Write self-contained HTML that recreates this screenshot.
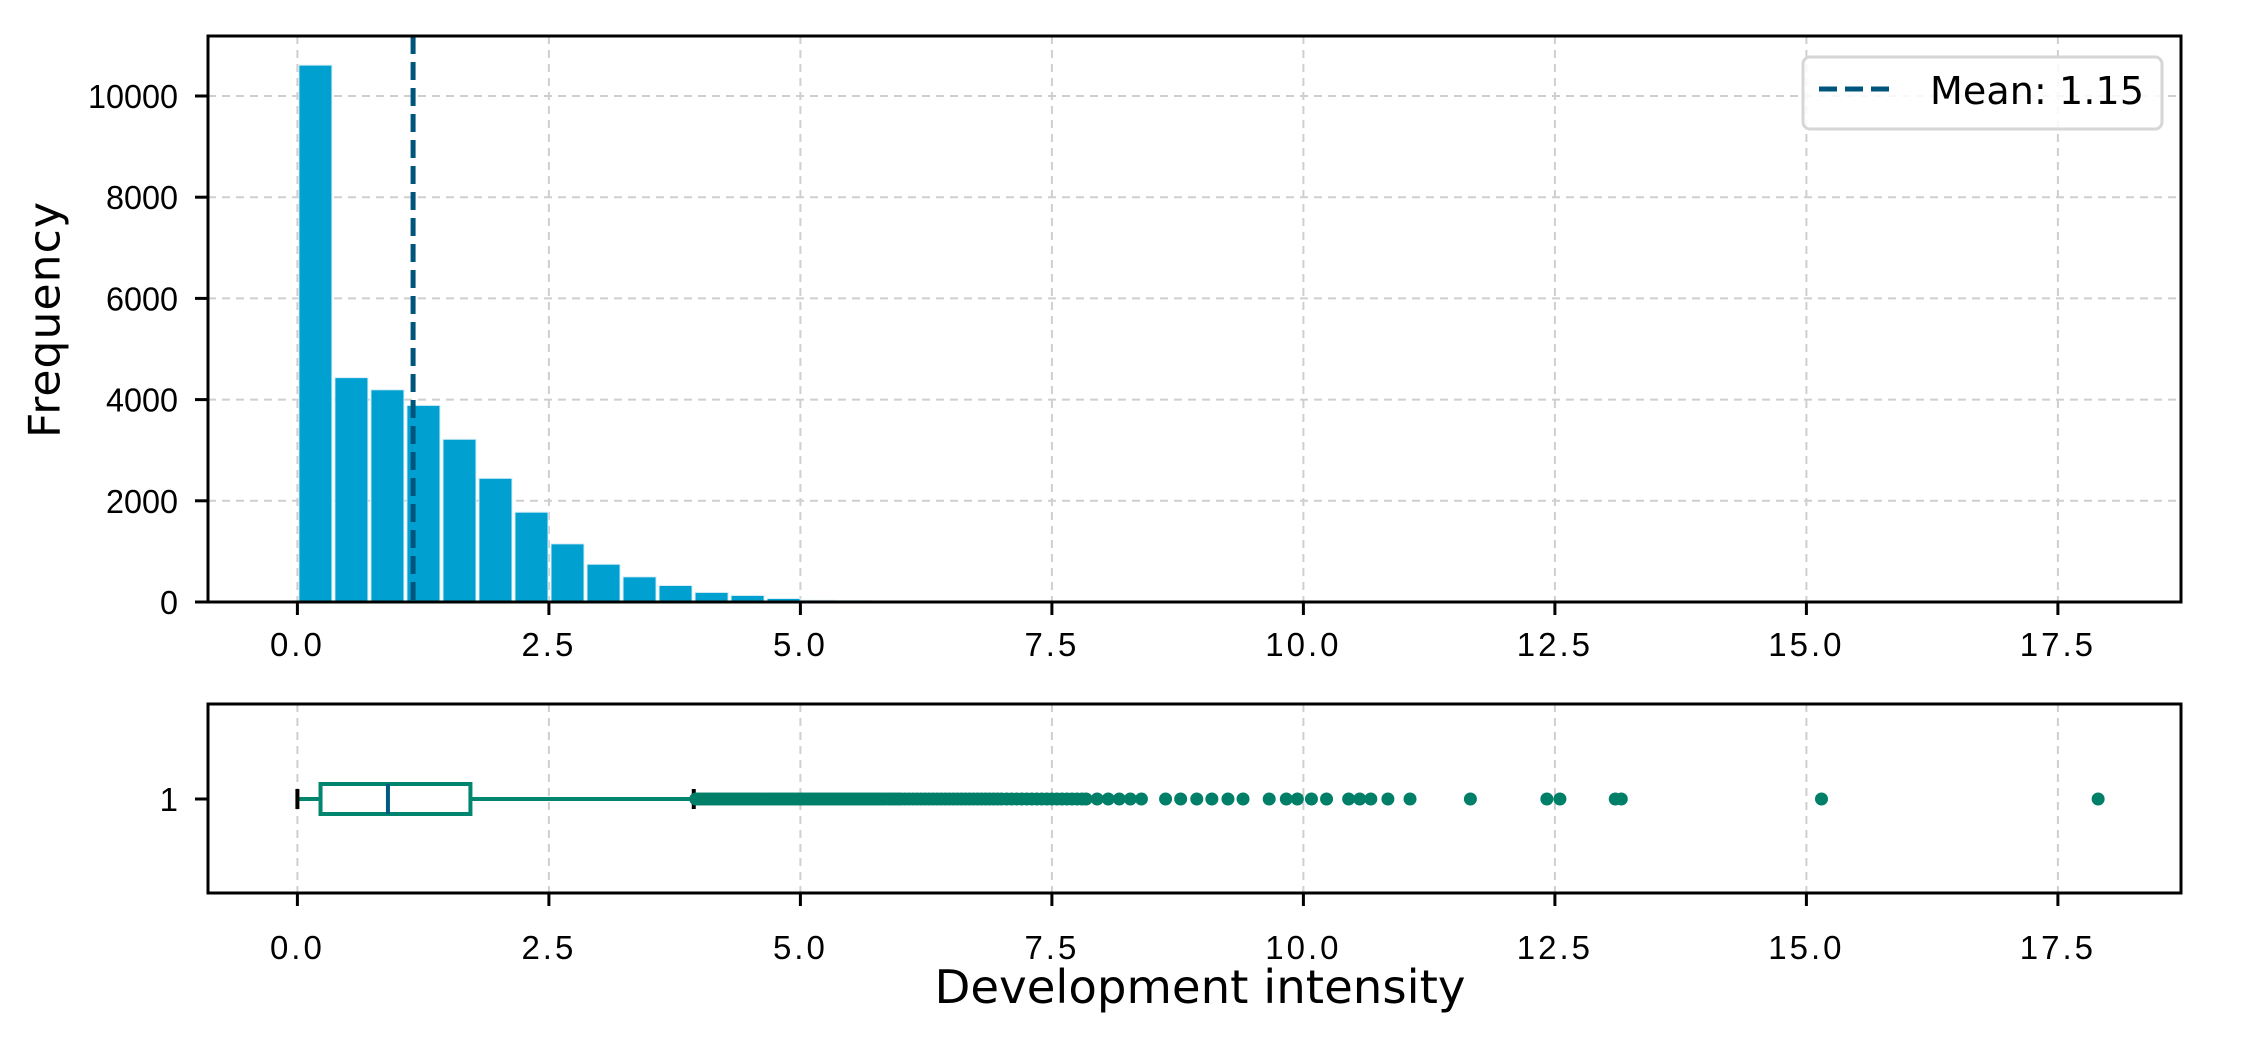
<!DOCTYPE html>
<html><head><meta charset="utf-8"><style>
html,body{margin:0;padding:0;background:#fff;}
svg{display:block;}
text{font-family:"Liberation Sans","DejaVu Sans",sans-serif;fill:#000;}
</style></head><body>
<svg id="chart" width="2242" height="1037" viewBox="0 0 2242 1037" xmlns="http://www.w3.org/2000/svg">
<g id="grid"></g>
<g id="bars"></g>
<g id="box"></g>
<g id="axes"></g>
<text x="45" y="320" font-size="44" text-anchor="middle" transform="rotate(-90 45 320)" dominant-baseline="central" textLength="236" style="font-family:'DejaVu Sans',sans-serif">Frequency</text>
<text x="1200" y="1003" font-size="46" text-anchor="middle" textLength="531" lengthAdjust="spacingAndGlyphs" style="font-family:'DejaVu Sans',sans-serif">Development intensity</text>
<g>
<rect x="1803" y="57" width="359" height="72" rx="7" fill="#fff" fill-opacity="0.85" stroke="#d6d6d6" stroke-width="3"/>
<line x1="1819" y1="89" x2="1896" y2="89" stroke="#00557d" stroke-width="5" stroke-dasharray="18,8"/>
<text x="1930" y="104" font-size="38" textLength="214" style="font-family:'DejaVu Sans',sans-serif">Mean: 1.15</text>
</g>
</svg>
<script>
const binStart = 0;
const binWidth = 0.358;
const counts = [10610,4434,4194,3885,3216,2444,1775,1149,746,497,326,189,129,69,34,26,14,9,6,4,3,2,1,1,1,0,0,0,0,0,0,0,0,0,0,0,0,0,0,0,0,0,0,0,0,0,0,0,0,1];
const meanValue = 1.15;
const yTicks = [0,2000,4000,6000,8000,10000];
const xTicks = [0,2.5,5,7.5,10,12.5,15,17.5];
const xTickLabels = ["0.0","2.5","5.0","7.5","10.0","12.5","15.0","17.5"];
const boxStats = [0, 0.23, 0.90, 1.72, 3.94];
const outliers = [3.96,3.99,4.02,4.05,4.08,4.11,4.14,4.17,4.2,4.23,4.26,4.29,4.32,4.35,4.38,4.41,4.44,4.47,4.5,4.53,4.56,4.59,4.62,4.65,4.68,4.71,4.74,4.77,4.8,4.83,4.86,4.89,4.92,4.95,4.98,5.01,5.04,5.07,5.1,5.13,5.16,5.19,5.22,5.25,5.28,5.31,5.34,5.37,5.4,5.43,5.46,5.49,5.52,5.55,5.58,5.61,5.64,5.67,5.7,5.73,5.76,5.79,5.82,5.85,5.88,5.91,5.94,5.97,6.0,6.04,6.08,6.12,6.16,6.2,6.24,6.28,6.32,6.36,6.4,6.44,6.48,6.52,6.56,6.6,6.64,6.68,6.72,6.76,6.8,6.84,6.88,6.92,6.96,7.0,7.05,7.1,7.15,7.2,7.25,7.3,7.35,7.4,7.45,7.5,7.55,7.6,7.65,7.7,7.75,7.8,7.84,7.95,8.06,8.17,8.28,8.39,8.63,8.78,8.94,9.09,9.25,9.40,9.66,9.83,9.94,10.08,10.23,10.45,10.56,10.67,10.84,11.06,11.66,12.42,12.55,13.10,13.16,15.15,17.9];

const NS="http://www.w3.org/2000/svg";
const L=208,R=2181,T1=36,B1=602,T2=704,B2=893,BOXY=799;
const X0=297.4,PXU=100.6;
function xs(v){return X0+v*PXU;}
function ys(v){return B1-v*0.0506;}
function mk(tag,attrs,parent){const e=document.createElementNS(NS,tag);for(const k in attrs)e.setAttribute(k,attrs[k]);parent.appendChild(e);return e;}
const grid=document.getElementById('grid'),bars=document.getElementById('bars'),box=document.getElementById('box'),axes=document.getElementById('axes');
const gs={stroke:"#cfcfcf","stroke-width":2,"stroke-dasharray":"8,6"};
xTicks.forEach((t,i)=>{
  [[T1,B1,54],[T2,B2,66]].forEach(([a,b,off])=>{
    const g=mk('line',Object.assign({x1:xs(t),x2:xs(t),y1:a,y2:b},gs),grid);
    
    
    const tk=mk('line',{x1:xs(t),x2:xs(t),y1:b,y2:b+13,stroke:"#000","stroke-width":3},axes);
    
    
    const tx=mk('text',{x:xs(t),y:b+off,"font-size":33,"text-anchor":"middle","letter-spacing":"3"},axes);
    tx.textContent=xTickLabels[i];
    
    
  });
});
yTicks.forEach(t=>{
  if(t>0){const g=mk('line',Object.assign({x1:L,x2:R,y1:ys(t),y2:ys(t)},gs),grid);
  
  }
  const tk=mk('line',{x1:L-13,x2:L,y1:ys(t),y2:ys(t),stroke:"#000","stroke-width":3},axes);
  
  
  const tx=mk('text',{x:178,y:ys(t)+12,"font-size":33,"text-anchor":"end","textLength":String(t).length*18,"lengthAdjust":"spacingAndGlyphs"},axes);
  tx.textContent=t;
  
  
});
counts.forEach((c,i)=>{
  if(c<=0)return;
  const x1=xs(binStart+i*binWidth),x2=xs(binStart+(i+1)*binWidth);
  const r=mk('rect',{x:x1+1.5,y:ys(c),width:x2-x1-3,height:B1-ys(c),fill:"#00a0d0",stroke:"#d8eef7","stroke-width":1},bars);
  
  
});
const ml=mk('line',{x1:xs(meanValue),x2:xs(meanValue),y1:T1,y2:B1,stroke:"#00557d","stroke-width":5,"stroke-dasharray":"18,8"},bars);


const teal="#00856f";
let e=mk('line',{x1:xs(boxStats[0]),x2:xs(boxStats[1]),y1:BOXY,y2:BOXY,stroke:teal,"stroke-width":4},box);


e=mk('line',{x1:xs(boxStats[3]),x2:xs(boxStats[4]),y1:BOXY,y2:BOXY,stroke:teal,"stroke-width":4},box);


[boxStats[0],boxStats[4]].forEach(v=>{
  const c=mk('line',{x1:xs(v),x2:xs(v),y1:BOXY-10,y2:BOXY+10,stroke:"#000","stroke-width":4},box);
  
  
});
e=mk('rect',{x:xs(boxStats[1]),y:BOXY-15,width:xs(boxStats[3])-xs(boxStats[1]),height:30,fill:"none",stroke:teal,"stroke-width":4},box);


e=mk('line',{x1:xs(boxStats[2]),x2:xs(boxStats[2]),y1:BOXY-15,y2:BOXY+15,stroke:"#005a80","stroke-width":4},box);


outliers.forEach(v=>{
  const c=mk('ellipse',{cx:xs(v),cy:BOXY,rx:6.5,ry:6.5,fill:"#007f68"},box);
  
  
});
e=mk('rect',{x:L,y:T1,width:R-L,height:B1-T1,fill:"none",stroke:"#000","stroke-width":3},axes);


e=mk('rect',{x:L,y:T2,width:R-L,height:B2-T2,fill:"none",stroke:"#000","stroke-width":3},axes);


e=mk('line',{x1:L-13,x2:L,y1:BOXY,y2:BOXY,stroke:"#000","stroke-width":3},axes);


e=mk('text',{x:178,y:BOXY+12,"font-size":33,"text-anchor":"end"},axes);
e.textContent="1";


</script>
</body></html>
